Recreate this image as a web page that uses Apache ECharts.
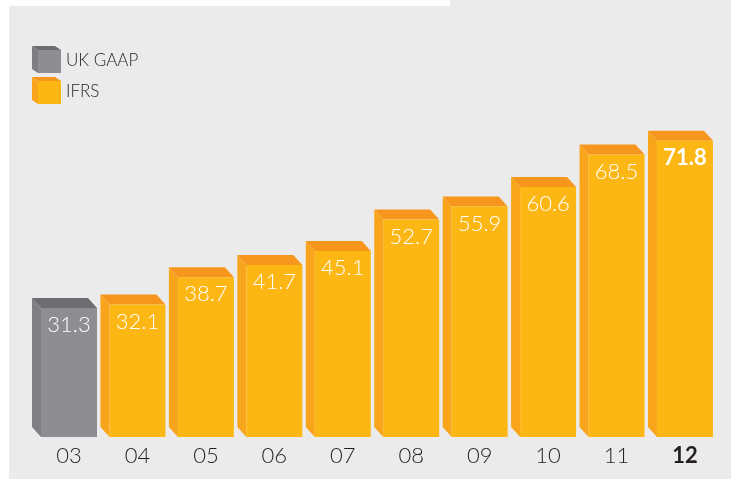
<!DOCTYPE html>
<html><head><meta charset="utf-8">
<script src="https://cdn.jsdelivr.net/npm/echarts@6/dist/echarts.min.js"></script>
<style>html,body{margin:0;padding:0;background:#fff}#c{width:731px;height:479px}</style>
</head><body><div id="c"></div>
<script>
const categories = ['03','04','05','06','07','08','09','10','11','12'];
const ukGaapValues = [31.3, null, null, null, null, null, null, null, null, null];
const ifrsValues = [null, 32.1, 38.7, 41.7, 45.1, 52.7, 55.9, 60.6, 68.5, 71.8];
const seriesNames = ['UK GAAP', 'IFRS'];

const FONT = 'Lato, "Open Sans", sans-serif';
const palettes = {
  'UK GAAP': {front:'#8e8d92', side:'#7f7e83', top:'#6e6d72'},
  'IFRS': {front:'#fdb714', side:'#f8a51c', top:'#f7961d'}
};

function toData(arr){
  const out = [];
  arr.forEach((v,i)=>{ if(v!=null) out.push([i, v]); });
  return out;
}

function makeRender(pal){
  return function(params, api){
    const idx = api.value(0), val = api.value(1);
    const topPt = api.coord([idx, val]);
    const basePt = api.coord([idx, 0]);
    const bw = api.size([1,0])[0]*0.818;
    const fl = topPt[0]-bw/2, fr = topPt[0]+bw/2;
    const t = topPt[1], b = basePt[1];
    const dx = 9, dy = 10;
    const last = idx === categories.length-1;
    return {type:'group', children:[
      {type:'polygon', shape:{points:[[fl-dx,t-dy],[fl,t],[fl,b],[fl-dx,b-dy]]}, style:{fill:pal.side}},
      {type:'polygon', shape:{points:[[fl-dx,t-dy],[fr-dx,t-dy],[fr,t],[fl,t]]}, style:{fill:pal.top}},
      {type:'rect', shape:{x:fl, y:t, width:bw, height:b-t}, style:{fill:pal.front}},
      {type:'text', x:topPt[0], y:t+6, style:{text:val.toFixed(1), fill:'#fff', font:(last?'bold ':'300 ')+'22px '+FONT, align:'center', verticalAlign:'top'}}
    ]};
  };
}

function legendCube(x, y, pal, label){
  return [
    {type:'polygon', shape:{points:[[x,y],[x+6,y+4],[x+6,y+27],[x,y+23]]}, style:{fill:pal.side}},
    {type:'polygon', shape:{points:[[x,y],[x+23,y],[x+29,y+4],[x+6,y+4]]}, style:{fill:pal.top}},
    {type:'rect', shape:{x:x+6, y:y+4, width:23, height:23}, style:{fill:pal.front}},
    {type:'text', x:x+34, y:y+15, style:{text:label, fill:'#231f20', font:'300 17px '+FONT, verticalAlign:'middle'}}
  ];
}

const chart = echarts.init(document.getElementById('c'), null, {renderer:'canvas'});
chart.setOption({
  backgroundColor:'#fff',
  animation:false,
  graphic:[
    {type:'rect', z:-10, shape:{x:9, y:0, width:731, height:479}, style:{fill:'#ebebeb'}},
    {type:'rect', z:-9, shape:{x:0, y:0, width:450, height:6}, style:{fill:'#fff'}},
    ...legendCube(32, 46, palettes['UK GAAP'], seriesNames[0]),
    ...legendCube(32, 77, palettes['IFRS'], seriesNames[1])
  ],
  grid:{left:34.8, right:11.8, top:107, bottom:42},
  xAxis:{type:'category', data:categories, axisLine:{show:false}, axisTick:{show:false},
    axisLabel:{interval:0, margin:8, fontSize:22, color:'#231f20', fontFamily:FONT, fontWeight:300,
      formatter:(v,i)=> i===categories.length-1 ? '{b|'+v+'}' : v,
      rich:{b:{fontSize:22, fontWeight:'bold', color:'#231f20', fontFamily:FONT}}}},
  yAxis:{type:'value', min:0, max:80, show:false, splitLine:{show:false}},
  series:[
    {name:seriesNames[0], type:'custom', renderItem:makeRender(palettes['UK GAAP']), data:toData(ukGaapValues), encode:{x:0,y:1}},
    {name:seriesNames[1], type:'custom', renderItem:makeRender(palettes['IFRS']), data:toData(ifrsValues), encode:{x:0,y:1}}
  ]
});
</script></body></html>
